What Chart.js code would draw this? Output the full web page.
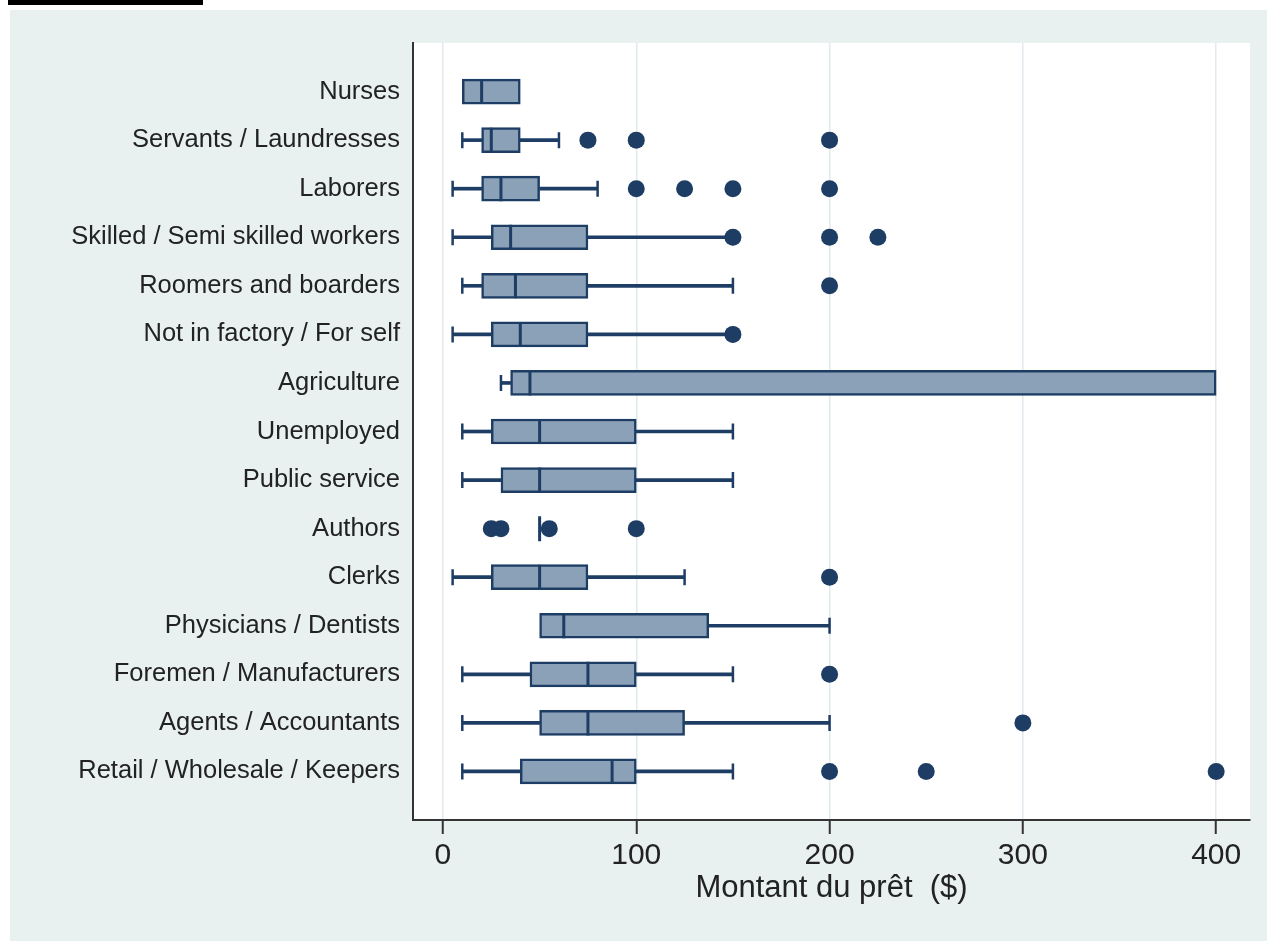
<!DOCTYPE html>
<html>
<head>
<meta charset="utf-8">
<script src="https://cdn.jsdelivr.net/npm/chart.js@4/dist/chart.umd.min.js"></script>
<style>
  html, body { margin: 0; padding: 0; background: #ffffff; width: 1267px; height: 941px; overflow: hidden; }
  #bg { position: absolute; left: 10px; top: 10px; width: 1257px; height: 931px; background: #e8f1f0; }
  #bar { position: absolute; left: 8px; top: 0px; width: 195px; height: 5px; background: #000; }
  #c { position: absolute; left: 0; top: 0; }
</style>
</head>
<body>
<div id="bar"></div>
<div id="bg"></div>
<canvas id="c" width="1267" height="941"></canvas>
<script>
const categories = [
  'Nurses',
  'Servants / Laundresses',
  'Laborers',
  'Skilled / Semi skilled workers',
  'Roomers and boarders',
  'Not in factory / For self',
  'Agriculture',
  'Unemployed',
  'Public service',
  'Authors',
  'Clerks',
  'Physicians / Dentists',
  'Foremen / Manufacturers',
  'Agents / Accountants',
  'Retail / Wholesale / Keepers'
];
const whiskerLow  = [10, 10,  5,   5,   10,   5,  30,  10,  10, 50,   5,   50,  10,  10,  10];
const quartile1   = [10, 20, 20,  25,   20,  25,  35,  25,  30, 50,  25,   50,  45,  50,  40];
const medians     = [20, 25, 30,  35, 37.5,  40,  45,  50,  50, 50,  50, 62.5,  75,  75, 87.5];
const quartile3   = [40, 40, 50,  75,   75,  75, 400, 100, 100, 50,  75, 137.5, 100, 125, 100];
const whiskerHigh = [40, 60, 80, 150,  150, 150, 400, 150, 150, 50, 125,  200, 150, 200, 150];
const outliers = [
  [],
  [75, 100, 200],
  [100, 125, 150, 200],
  [150, 200, 225],
  [200],
  [150],
  [],
  [],
  [],
  [25, 30, 55, 100],
  [200],
  [],
  [200],
  [300],
  [200, 250, 400]
];
const xTicks = [0, 100, 200, 300, 400];
const xTitle = 'Montant du prêt  ($)';

const yLabels = [''].concat(categories, ['']);
const pad = arr => [null].concat(arr, [null]);

const dark = '#1e3d64';
const fill = '#8ba1b8';

const boxData = pad(categories.map((c, i) => quartile3[i] > quartile1[i] ? [quartile1[i], quartile3[i]] : null));
const lowData = pad(categories.map((c, i) => quartile1[i] > whiskerLow[i] ? [whiskerLow[i], quartile1[i]] : null));
const highData = pad(categories.map((c, i) => whiskerHigh[i] > quartile3[i] ? [quartile3[i], whiskerHigh[i]] : null));
const medData = categories.map((c, i) => ({ x: medians[i], y: c }));
const capData = [];
categories.forEach((c, i) => {
  if (quartile1[i] > whiskerLow[i]) capData.push({ x: whiskerLow[i], y: c });
  if (whiskerHigh[i] > quartile3[i]) capData.push({ x: whiskerHigh[i], y: c });
});
const outData = [];
categories.forEach((c, i) => outliers[i].forEach(v => outData.push({ x: v, y: c })));

const plotBg = {
  id: 'plotBg',
  beforeDraw(chart) {
    const { ctx, chartArea: a } = chart;
    ctx.save();
    ctx.fillStyle = '#ffffff';
    ctx.fillRect(a.left, a.top, a.right - a.left, a.bottom - a.top);
    ctx.restore();
  }
};

new Chart(document.getElementById('c'), {
  type: 'bar',
  data: {
    labels: yLabels,
    datasets: [
      { type: 'scatter', data: outData, order: 0, pointStyle: 'circle', pointRadius: 8.5,
        backgroundColor: dark, borderColor: dark, borderWidth: 0 },
      { type: 'scatter', data: medData, order: 1, pointStyle: 'line', rotation: 90, pointRadius: 12.5,
        borderColor: dark, borderWidth: 3 },
      { type: 'scatter', data: capData, order: 1, pointStyle: 'line', rotation: 90, pointRadius: 8,
        borderColor: dark, borderWidth: 2.5 },
      { data: boxData, order: 2, grouped: false, barThickness: 25, backgroundColor: fill,
        borderColor: dark, borderWidth: 2.5, borderSkipped: false },
      { data: lowData, order: 3, grouped: false, barThickness: 3, backgroundColor: dark, borderWidth: 0 },
      { data: highData, order: 3, grouped: false, barThickness: 3, backgroundColor: dark, borderWidth: 0 }
    ]
  },
  options: {
    indexAxis: 'y',
    responsive: false,
    animation: false,
    events: [],
    layout: { padding: { top: 43, right: 17, left: 0, bottom: 0 } },
    plugins: { legend: { display: false }, tooltip: { enabled: false } },
    scales: {
      x: {
        type: 'linear',
        position: 'bottom',
        min: -15.5,
        max: 417.5,
        afterBuildTicks: s => { s.ticks = xTicks.map(v => ({ value: v })); },
        afterFit: s => { s.height = 121; },
        grid: { color: '#e1eaee', lineWidth: 1.5, drawTicks: true, tickLength: 14, tickColor: '#333', tickWidth: 2 },
        border: { display: true, color: '#333', width: 2 },
        ticks: { padding: 4, color: '#222', font: { family: '"Liberation Sans", Arial, sans-serif', size: 30 } },
        title: { display: true, text: xTitle, color: '#222', padding: { top: 0, bottom: 34 },
          font: { family: '"Liberation Sans", Arial, sans-serif', size: 31 } }
      },
      y: {
        type: 'category',
        offset: false,
        afterFit: s => { s.width = 413; },
        grid: { display: false, drawTicks: false },
        border: { display: true, color: '#333', width: 2 },
        ticks: { autoSkip: false, padding: 13, color: '#222',
          font: { family: '"Liberation Sans", Arial, sans-serif', size: 25.5 } }
      }
    }
  },
  plugins: [plotBg]
});
</script>
</body>
</html>
